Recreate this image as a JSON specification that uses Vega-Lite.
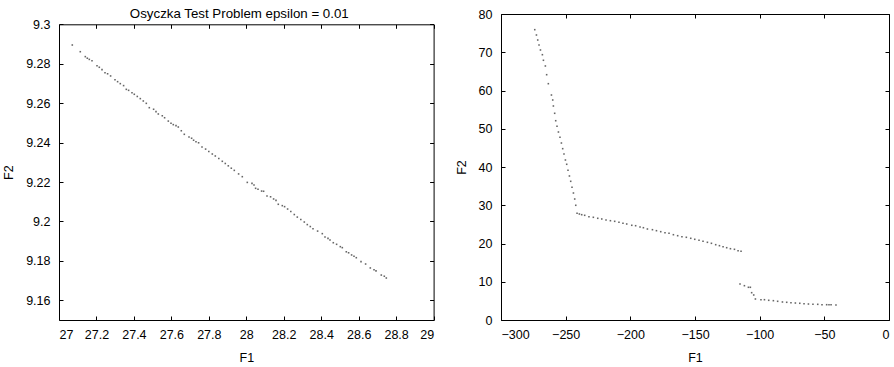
{
  "$schema": "https://vega.github.io/schema/vega-lite/v6.json",
  "padding": {"left": 2, "top": 7, "right": 0, "bottom": 0},
  "spacing": 20,
  "config": {
    "view": {"stroke": null},
    "axis": {
      "grid": false,
      "tickSize": -4,
      "labelPadding": 12,
      "domainColor": "black",
      "tickColor": "black",
      "labelColor": "black",
      "titleColor": "black",
      "labelFont": "Liberation Sans",
      "titleFont": "Liberation Sans",
      "labelFontSize": 12.5,
      "titleFontSize": 12.5,
      "titleFontWeight": "normal"
    },
    "axisX": {"titlePadding": 10.5},
    "axisY": {"titlePadding": 10, "labelPadding": 13}
  },
  "datasets": {
    "osy": [
      {"F1": 27.0710, "F2": 9.2895}, {"F1": 27.1137, "F2": 9.2861}, {"F1": 27.1404, "F2": 9.2836}, {"F1": 27.1511, "F2": 9.2828},
      {"F1": 27.1618, "F2": 9.2822}, {"F1": 27.1762, "F2": 9.2815}, {"F1": 27.2029, "F2": 9.2790}, {"F1": 27.2152, "F2": 9.2782},
      {"F1": 27.2296, "F2": 9.2770}, {"F1": 27.2456, "F2": 9.2754}, {"F1": 27.2595, "F2": 9.2749}, {"F1": 27.2755, "F2": 9.2738},
      {"F1": 27.2990, "F2": 9.2719}, {"F1": 27.3129, "F2": 9.2709}, {"F1": 27.3273, "F2": 9.2699}, {"F1": 27.3449, "F2": 9.2689},
      {"F1": 27.3593, "F2": 9.2670}, {"F1": 27.3716, "F2": 9.2665}, {"F1": 27.3897, "F2": 9.2653}, {"F1": 27.4020, "F2": 9.2645},
      {"F1": 27.4180, "F2": 9.2634}, {"F1": 27.4341, "F2": 9.2623}, {"F1": 27.4501, "F2": 9.2611}, {"F1": 27.4661, "F2": 9.2599},
      {"F1": 27.4821, "F2": 9.2577}, {"F1": 27.5051, "F2": 9.2569}, {"F1": 27.5179, "F2": 9.2557}, {"F1": 27.5302, "F2": 9.2545},
      {"F1": 27.5515, "F2": 9.2536}, {"F1": 27.5638, "F2": 9.2526}, {"F1": 27.5836, "F2": 9.2509}, {"F1": 27.5980, "F2": 9.2498},
      {"F1": 27.6102, "F2": 9.2491}, {"F1": 27.6247, "F2": 9.2486}, {"F1": 27.6369, "F2": 9.2479}, {"F1": 27.6530, "F2": 9.2460},
      {"F1": 27.6690, "F2": 9.2442}, {"F1": 27.6941, "F2": 9.2428}, {"F1": 27.7080, "F2": 9.2422}, {"F1": 27.7186, "F2": 9.2412},
      {"F1": 27.7314, "F2": 9.2404}, {"F1": 27.7453, "F2": 9.2399}, {"F1": 27.7635, "F2": 9.2378}, {"F1": 27.7827, "F2": 9.2367},
      {"F1": 27.7998, "F2": 9.2355}, {"F1": 27.8185, "F2": 9.2342}, {"F1": 27.8345, "F2": 9.2332}, {"F1": 27.8532, "F2": 9.2319},
      {"F1": 27.8719, "F2": 9.2305}, {"F1": 27.8879, "F2": 9.2294}, {"F1": 27.9039, "F2": 9.2282}, {"F1": 27.9199, "F2": 9.2270},
      {"F1": 27.9359, "F2": 9.2259}, {"F1": 27.9589, "F2": 9.2241}, {"F1": 27.9786, "F2": 9.2227}, {"F1": 28.0053, "F2": 9.2198},
      {"F1": 28.0304, "F2": 9.2193}, {"F1": 28.0411, "F2": 9.2185}, {"F1": 28.0497, "F2": 9.2168}, {"F1": 28.0625, "F2": 9.2163},
      {"F1": 28.0817, "F2": 9.2154}, {"F1": 28.0924, "F2": 9.2153}, {"F1": 28.1105, "F2": 9.2129}, {"F1": 28.1297, "F2": 9.2125},
      {"F1": 28.1458, "F2": 9.2114}, {"F1": 28.1586, "F2": 9.2107}, {"F1": 28.1708, "F2": 9.2087}, {"F1": 28.1922, "F2": 9.2080},
      {"F1": 28.2045, "F2": 9.2075}, {"F1": 28.2205, "F2": 9.2063}, {"F1": 28.2376, "F2": 9.2050}, {"F1": 28.2563, "F2": 9.2035},
      {"F1": 28.2723, "F2": 9.2022}, {"F1": 28.2910, "F2": 9.2010}, {"F1": 28.3097, "F2": 9.1997}, {"F1": 28.3257, "F2": 9.1984},
      {"F1": 28.3417, "F2": 9.1974}, {"F1": 28.3561, "F2": 9.1963}, {"F1": 28.3807, "F2": 9.1951}, {"F1": 28.4058, "F2": 9.1938},
      {"F1": 28.4202, "F2": 9.1921}, {"F1": 28.4362, "F2": 9.1914}, {"F1": 28.4469, "F2": 9.1906}, {"F1": 28.4645, "F2": 9.1892},
      {"F1": 28.4821, "F2": 9.1884}, {"F1": 28.5019, "F2": 9.1872}, {"F1": 28.5126, "F2": 9.1867}, {"F1": 28.5339, "F2": 9.1846},
      {"F1": 28.5462, "F2": 9.1841}, {"F1": 28.5622, "F2": 9.1830}, {"F1": 28.5750, "F2": 9.1823}, {"F1": 28.5873, "F2": 9.1816},
      {"F1": 28.6124, "F2": 9.1796}, {"F1": 28.6370, "F2": 9.1784}, {"F1": 28.6621, "F2": 9.1764}, {"F1": 28.6819, "F2": 9.1755},
      {"F1": 28.6925, "F2": 9.1749}, {"F1": 28.7208, "F2": 9.1728}, {"F1": 28.7368, "F2": 9.1722}, {"F1": 28.7475, "F2": 9.1713}
    ],
    "front": [
      {"F1": -273.9, "F2": 75.90}, {"F1": -272.6, "F2": 74.51}, {"F1": -271.6, "F2": 73.20}, {"F1": -270.6, "F2": 71.90},
      {"F1": -269.5, "F2": 70.59}, {"F1": -268.0, "F2": 69.36}, {"F1": -267.2, "F2": 67.90}, {"F1": -265.7, "F2": 66.41},
      {"F1": -264.7, "F2": 64.13}, {"F1": -263.4, "F2": 61.78}, {"F1": -261.0, "F2": 58.82}, {"F1": -260.0, "F2": 57.52},
      {"F1": -259.5, "F2": 55.95}, {"F1": -258.5, "F2": 54.04}, {"F1": -257.7, "F2": 52.10}, {"F1": -256.7, "F2": 50.64},
      {"F1": -255.6, "F2": 49.15}, {"F1": -254.4, "F2": 47.76}, {"F1": -253.3, "F2": 46.27}, {"F1": -252.3, "F2": 44.79},
      {"F1": -251.3, "F2": 43.40}, {"F1": -250.2, "F2": 41.83}, {"F1": -249.2, "F2": 40.71}, {"F1": -248.2, "F2": 39.14},
      {"F1": -247.1, "F2": 37.65}, {"F1": -246.1, "F2": 36.26}, {"F1": -245.1, "F2": 34.69}, {"F1": -244.0, "F2": 33.20},
      {"F1": -243.0, "F2": 31.63}, {"F1": -242.2, "F2": 29.99}, {"F1": -241.2, "F2": 27.90},
      {"F1": -239.4, "F2": 27.71}, {"F1": -237.6, "F2": 27.53}, {"F1": -235.3, "F2": 27.37}, {"F1": -232.0, "F2": 27.01},
      {"F1": -228.6, "F2": 26.85}, {"F1": -225.2, "F2": 26.59}, {"F1": -222.1, "F2": 26.41}, {"F1": -218.8, "F2": 26.14},
      {"F1": -215.4, "F2": 25.96}, {"F1": -212.1, "F2": 25.80}, {"F1": -208.8, "F2": 25.54}, {"F1": -205.7, "F2": 25.28},
      {"F1": -202.8, "F2": 25.10}, {"F1": -198.9, "F2": 24.76}, {"F1": -195.9, "F2": 24.65}, {"F1": -192.5, "F2": 24.31},
      {"F1": -189.9, "F2": 24.13}, {"F1": -186.8, "F2": 23.79}, {"F1": -182.9, "F2": 23.61}, {"F1": -179.8, "F2": 23.35},
      {"F1": -176.5, "F2": 23.09}, {"F1": -173.2, "F2": 22.82}, {"F1": -170.1, "F2": 22.67}, {"F1": -166.7, "F2": 22.30},
      {"F1": -163.4, "F2": 22.04}, {"F1": -160.1, "F2": 21.78}, {"F1": -156.7, "F2": 21.62}, {"F1": -153.3, "F2": 21.36},
      {"F1": -150.2, "F2": 21.10}, {"F1": -146.9, "F2": 20.84}, {"F1": -143.8, "F2": 20.58}, {"F1": -140.4, "F2": 20.31},
      {"F1": -137.3, "F2": 20.05}, {"F1": -134.0, "F2": 19.69}, {"F1": -131.1, "F2": 19.43}, {"F1": -128.3, "F2": 19.16},
      {"F1": -125.5, "F2": 18.90}, {"F1": -122.6, "F2": 18.64}, {"F1": -119.5, "F2": 18.48}, {"F1": -116.7, "F2": 18.12},
      {"F1": -114.4, "F2": 17.96},
      {"F1": -115.2, "F2": 9.41}, {"F1": -111.8, "F2": 8.97}, {"F1": -108.7, "F2": 8.55}, {"F1": -107.2, "F2": 8.55},
      {"F1": -106.2, "F2": 7.14}, {"F1": -104.6, "F2": 6.54}, {"F1": -103.3, "F2": 5.49}, {"F1": -99.0, "F2": 5.31},
      {"F1": -96.3, "F2": 5.31}, {"F1": -93.0, "F2": 5.15}, {"F1": -89.4, "F2": 5.05}, {"F1": -86.1, "F2": 4.89},
      {"F1": -82.4, "F2": 4.71}, {"F1": -79.1, "F2": 4.63}, {"F1": -75.8, "F2": 4.52}, {"F1": -72.4, "F2": 4.44},
      {"F1": -69.0, "F2": 4.37}, {"F1": -65.7, "F2": 4.26}, {"F1": -62.3, "F2": 4.18}, {"F1": -58.8, "F2": 4.10},
      {"F1": -55.1, "F2": 4.10}, {"F1": -51.8, "F2": 4.00}, {"F1": -48.2, "F2": 4.00}, {"F1": -46.4, "F2": 4.00},
      {"F1": -44.8, "F2": 4.00}, {"F1": -41.0, "F2": 3.92}
    ]
  },
  "hconcat": [
    {
      "width": 374.6,
      "height": 306,
      "data": {"name": "osy"},
      "title": {"text": "Osyczka Test Problem epsilon = 0.01", "font": "Liberation Sans", "fontSize": 13.3, "fontWeight": "normal", "color": "black", "offset": -6.5, "anchor": "middle", "dx": -7},
      "layer": [
        {
          "mark": {"type": "square", "size": 2.5, "color": "#666", "opacity": 1},
          "encoding": {
            "x": {"field": "F1", "type": "quantitative", "scale": {"domain": [27, 29], "nice": false, "zero": false},
                  "axis": {"orient": "bottom", "title": "F1", "values": [27, 27.2, 27.4, 27.6, 27.8, 28, 28.2, 28.4, 28.6, 28.8, 29], "format": ".1~f"}},
            "y": {"field": "F2", "type": "quantitative", "scale": {"domain": [9.15, 9.3], "nice": false, "zero": false, "range": [306, 10.3]},
                  "axis": {"orient": "left", "title": "F2", "values": [9.16, 9.18, 9.2, 9.22, 9.24, 9.26, 9.28, 9.3], "format": ".2~f"}}
          }
        },
        {
          "mark": {"type": "square", "size": 1, "opacity": 0},
          "encoding": {
            "x": {"field": "F1", "type": "quantitative", "scale": {"domain": [27, 29], "nice": false, "zero": false},
                  "axis": {"orient": "top", "title": null, "labels": false, "offset": -10.3, "values": [27, 27.2, 27.4, 27.6, 27.8, 28, 28.2, 28.4, 28.6, 28.8, 29]}},
            "y": {"field": "F2", "type": "quantitative", "scale": {"domain": [9.15, 9.3], "nice": false, "zero": false, "range": [306, 10.3]},
                  "axis": {"orient": "right", "title": null, "labels": false, "values": [9.16, 9.18, 9.2, 9.22, 9.24, 9.26, 9.28, 9.3]}}
          }
        }
      ],
      "resolve": {"axis": {"x": "independent", "y": "independent"}}
    },
    {
      "width": 388,
      "height": 306,
      "data": {"name": "front"},
      "layer": [
        {
          "mark": {"type": "square", "size": 2.5, "color": "#666", "opacity": 1},
          "encoding": {
            "x": {"field": "F1", "type": "quantitative", "scale": {"domain": [-300, 0], "nice": false, "zero": false},
                  "axis": {"orient": "bottom", "title": "F1", "values": [-300, -250, -200, -150, -100, -50, 0]}},
            "y": {"field": "F2", "type": "quantitative", "scale": {"domain": [0, 80], "nice": false, "zero": false},
                  "axis": {"orient": "left", "title": "F2", "values": [0, 10, 20, 30, 40, 50, 60, 70, 80]}}
          }
        },
        {
          "mark": {"type": "square", "size": 1, "opacity": 0},
          "encoding": {
            "x": {"field": "F1", "type": "quantitative", "scale": {"domain": [-300, 0], "nice": false, "zero": false},
                  "axis": {"orient": "top", "title": null, "labels": false, "values": [-300, -250, -200, -150, -100, -50, 0]}},
            "y": {"field": "F2", "type": "quantitative", "scale": {"domain": [0, 80], "nice": false, "zero": false},
                  "axis": {"orient": "right", "title": null, "labels": false, "values": [0, 10, 20, 30, 40, 50, 60, 70, 80]}}
          }
        }
      ],
      "resolve": {"axis": {"x": "independent", "y": "independent"}}
    }
  ]
}
